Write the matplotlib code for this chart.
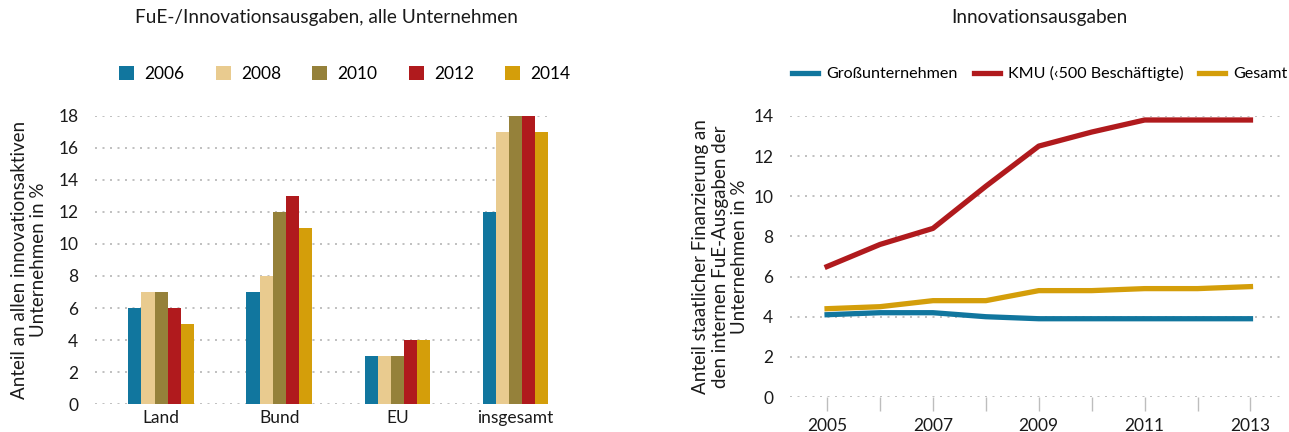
import matplotlib
matplotlib.use('Agg')
import matplotlib.pyplot as plt
import numpy as np
from matplotlib.patches import Patch

plt.rcParams['font.family'] = ['Lato', 'DejaVu Sans']

# ---------------- data: left panel ----------------
groups = ['Land', 'Bund', 'EU', 'insgesamt']
bar_years = ['2006', '2008', '2010', '2012', '2014']
vals_2006 = [6, 7, 3, 12]
vals_2008 = [7, 8, 3, 17]
vals_2010 = [7, 12, 3, 18]
vals_2012 = [6, 13, 4, 18]
vals_2014 = [5, 11, 4, 17]

# ---------------- data: right panel ----------------
years = [2005, 2006, 2007, 2008, 2009, 2010, 2011, 2012, 2013]
gross = [4.1, 4.2, 4.2, 4.0, 3.9, 3.9, 3.9, 3.9, 3.9]
kmu = [6.5, 7.6, 8.4, 10.5, 12.5, 13.2, 13.8, 13.8, 13.8]
gesamt = [4.4, 4.5, 4.8, 4.8, 5.3, 5.3, 5.4, 5.4, 5.5]

BLUE = '#11769e'
BEIGE = '#e9cb8f'
OLIVE = '#95813a'
RED = '#b01a1d'
GOLD = '#d49e0a'
GRID = '#b5b5b5'
TXT = '#1a1a1a'
FS = 12.5   # tick / legend size

fig = plt.figure(figsize=(12.89, 4.32), dpi=100)

#  ---------------- LEFT: bars ----------------  #
ax1 = fig.add_axes([0.0737, 0.0648, 0.3545, 0.6667])
series = [vals_2006, vals_2008, vals_2010, vals_2012, vals_2014]
colors = [BLUE, BEIGE, OLIVE, RED, GOLD]
x = np.arange(len(groups))
bw = 0.111
for i, (vals, c) in enumerate(zip(series, colors)):
    ax1.bar(x + (i - 2) * bw, vals, width=bw, color=c, zorder=3)

ax1.set_xlim(-0.56, 3.31)
ax1.set_ylim(0, 18)
ax1.set_yticks(range(0, 19, 2))
ax1.set_xticks(x)
ax1.set_xticklabels(groups)
ax1.set_ylabel('Anteil an allen innovationsaktiven\nUnternehmen in %',
               fontsize=13.5, color=TXT, labelpad=8, linespacing=1.15)

handles1 = [Patch(facecolor=c, label=y) for c, y in zip(colors, bar_years)]
ax1.legend(handles=handles1, loc='center', bbox_to_anchor=(0.547, 1.145),
           ncol=5, frameon=False, fontsize=FS, handlelength=0.85,
           handleheight=0.85, columnspacing=1.8, handletextpad=0.6)

#  ---------------- RIGHT: lines ----------------  #
ax2 = fig.add_axes([0.6129, 0.081, 0.3802, 0.6505])
LW = 3.8
ax2.plot(years, gross, color=BLUE, lw=LW, label='Großunternehmen', zorder=3)
ax2.plot(years, kmu, color=RED, lw=LW, label='KMU (‹500 Beschäftigte)', zorder=3)
ax2.plot(years, gesamt, color=GOLD, lw=LW, label='Gesamt', zorder=3)

ax2.set_xlim(2004.3, 2013.56)
ax2.set_ylim(0, 14)
ax2.set_yticks(range(0, 15, 2))
ax2.set_xticks(years)
ax2.set_xticklabels([str(y) if y % 2 == 1 else '' for y in years])
ax2.tick_params(axis='x', length=10, width=1, color='#bdbdbd', pad=5)
ax2.set_ylabel('Anteil staatlicher Finanzierung an\nden internen FuE-Ausgaben der\nUnternehmen in %',
               fontsize=13.5, color=TXT, labelpad=4, linespacing=1.15)
ax2.legend(loc='center', bbox_to_anchor=(0.51, 1.15), ncol=3, frameon=False,
           fontsize=11.6, handlelength=1.6, columnspacing=1.0, handletextpad=0.5)

for ax in (ax1, ax2):
    for s in ax.spines.values():
        s.set_visible(False)
    ax.yaxis.grid(True, color=GRID, linestyle=(0, (1.2, 3.3)), linewidth=1.2)
    ax.set_axisbelow(True)
    ax.tick_params(axis='y', length=0, pad=12, labelsize=FS, labelcolor=TXT)
    ax.tick_params(axis='x', labelsize=FS, labelcolor=TXT)
ax1.tick_params(axis='x', length=0, pad=4)

fig.text(0.253, 0.96, 'FuE-/Innovationsausgaben, alle Unternehmen',
         ha='center', va='center', fontsize=13.7, color=TXT)
fig.text(0.806, 0.96, 'Innovationsausgaben',
         ha='center', va='center', fontsize=13.7, color=TXT)

fig.savefig('out.png', dpi=100)
